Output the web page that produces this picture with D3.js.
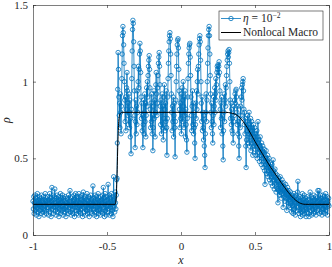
<!DOCTYPE html>
<html lang="en">
<head>
  <meta charset="utf-8">
  <title>Density profile, eta = 1e-2 vs nonlocal macro</title>
  <script src="https://d3js.org/d3.v7.min.js"></script>
  <style>
    body { margin: 0; background: #fff; }
    svg text { font-family: "Liberation Serif", "DejaVu Serif", serif; fill: #262626; }
  </style>
</head>
<body>
  <div id="chart"></div>
  <script>
    // microscopic density (eta = 1e-2), uniform grid on [-1, 1]
    var rho = [
      0.22,0.17,0.25,0.14,0.21,0.26,0.16,0.19,0.24,0.13,0.22,0.18,0.27,0.15,0.20,0.23,0.12,0.25,0.19,0.16,
      0.24,0.20,0.14,0.26,0.18,0.22,0.15,0.21,0.25,0.17,0.13,0.23,0.19,0.27,0.16,0.22,0.14,0.24,0.20,0.18,
      0.25,0.18,0.13,0.23,0.21,0.27,0.15,0.19,0.24,0.12,0.22,0.31,0.17,0.20,0.26,0.14,0.23,0.18,0.25,0.30,
      0.16,0.21,0.13,0.24,0.19,0.26,0.15,0.22,0.18,0.25,0.12,0.20,0.23,0.17,0.27,0.14,0.21,0.24,0.16,0.19,
      0.26,0.13,0.20,0.24,0.17,0.22,0.15,0.25,0.18,0.12,0.21,0.19,0.24,0.16,0.23,0.14,0.26,0.20,0.18,0.22,
      0.29,0.15,0.19,0.13,0.24,0.21,0.17,0.25,0.14,0.22,0.20,0.26,0.12,0.23,0.18,0.27,0.16,0.21,0.25,0.14,
      0.22,0.18,0.24,0.13,0.27,0.19,0.15,0.25,0.21,0.14,0.23,0.17,0.20,0.26,0.12,0.22,0.28,0.18,0.24,0.15,
      0.21,0.25,0.13,0.19,0.23,0.16,0.27,0.14,0.22,0.20,0.18,0.25,0.12,0.24,0.17,0.21,0.26,0.15,0.19,0.23,
      0.14,0.20,0.32,0.17,0.24,0.13,0.22,0.19,0.26,0.15,0.21,0.25,0.12,0.18,0.23,0.16,0.27,0.14,0.20,0.24,
      0.17,0.22,0.13,0.25,0.19,0.15,0.23,0.21,0.26,0.14,0.31,0.18,0.24,0.12,0.20,0.27,0.16,0.22,0.13,0.25,
      0.19,0.15,0.23,0.33,0.17,0.21,0.26,0.13,0.24,0.18,0.22,0.14,0.27,0.20,0.16,0.25,0.12,0.23,0.38,0.19,
      0.24,0.15,0.28,0.21,0.17,0.26,0.36,0.37,0.60,0.95,1.19,1.08,0.90,0.78,0.86,0.70,0.92,0.80,0.66,0.84,
      1.02,1.18,1.30,1.36,1.32,1.24,1.12,1.00,0.88,0.74,0.90,0.68,0.82,0.96,1.06,0.94,0.78,0.86,0.72,0.92,
      0.80,0.70,0.88,0.64,0.76,0.53,0.82,1.02,1.20,1.34,1.40,1.38,1.26,1.10,0.94,0.78,0.57,0.74,0.88,0.66,
      0.84,0.72,0.94,0.80,1.00,1.10,0.96,1.08,1.18,1.25,1.20,1.06,0.90,0.76,0.86,0.68,0.78,0.57,0.72,0.88,
      0.66,0.80,0.92,0.74,0.86,0.64,0.78,0.96,0.84,1.00,0.90,1.04,1.10,1.14,1.17,1.08,0.96,0.82,0.70,0.86,
      0.74,0.92,0.66,0.78,0.55,0.70,0.84,0.94,0.76,0.88,0.64,0.80,0.98,1.06,0.92,0.78,0.86,0.96,1.04,1.12,
      1.16,1.19,1.10,0.98,0.84,0.72,0.88,0.66,0.80,0.92,0.70,0.84,0.62,0.76,0.90,0.98,0.82,0.68,0.86,0.74,
      0.94,0.70,0.52,0.76,0.90,1.02,1.12,1.20,1.26,1.30,1.32,1.28,1.18,1.04,0.92,0.80,0.68,0.84,0.74,0.90,
      0.64,0.78,0.86,0.70,0.51,0.74,0.88,1.00,1.10,1.18,1.24,1.27,1.28,1.22,1.08,0.94,0.82,0.70,0.86,0.76,
      0.92,0.66,0.80,0.96,0.74,0.88,1.00,0.84,0.70,0.90,0.78,0.94,0.64,0.82,0.72,0.62,0.54,0.76,0.90,1.02,
      1.12,1.18,1.22,1.24,1.25,1.16,1.04,0.90,0.78,0.68,0.84,0.94,0.72,0.86,0.66,0.80,0.70,0.60,0.50,0.72,
      0.86,0.76,0.94,0.82,1.00,1.08,0.92,1.10,1.18,1.24,1.28,1.30,1.26,1.14,1.00,0.86,0.74,0.90,0.68,0.80,
      0.70,0.62,0.78,0.58,0.52,0.44,0.66,0.80,0.92,0.74,0.88,1.00,1.12,1.22,1.30,1.34,1.36,1.30,1.18,1.04,
      0.92,0.80,0.70,0.86,0.74,0.66,0.60,0.78,0.90,0.72,0.84,0.96,0.80,0.92,1.02,0.88,0.98,1.06,1.10,1.08,
      1.11,1.04,1.10,1.13,1.06,0.94,0.82,0.70,0.86,0.76,0.90,0.66,0.78,0.58,0.49,0.68,0.80,0.92,0.74,0.88,
      0.98,0.84,0.96,1.04,1.10,1.14,1.18,1.20,1.16,1.19,1.21,1.12,1.00,0.88,0.76,0.86,0.72,0.82,0.68,0.76,
      0.66,0.60,0.74,0.84,0.78,0.88,0.92,0.86,0.94,0.95,0.90,0.80,0.72,0.84,0.66,0.74,0.58,0.50,0.64,0.76,
      0.70,0.84,0.78,0.90,0.96,0.88,0.98,1.00,1.02,0.94,0.82,0.72,0.80,0.66,0.76,0.58,0.44,0.62,0.74,0.68,
      0.78,0.60,0.72,0.66,0.80,0.58,0.70,0.64,0.76,0.55,0.68,0.74,0.60,0.70,0.52,0.66,0.72,0.58,0.64,0.70,
      0.56,0.66,0.52,0.62,0.58,0.68,0.50,0.64,0.74,0.60,0.54,0.62,0.48,0.58,0.64,0.52,0.56,0.46,0.60,0.54,
      0.50,0.58,0.44,0.54,0.48,0.56,0.42,0.33,0.50,0.46,0.55,0.40,0.50,0.44,0.52,0.38,0.47,0.42,0.50,0.36,
      0.44,0.40,0.47,0.34,0.42,0.38,0.46,0.32,0.40,0.49,0.36,0.42,0.30,0.38,0.43,0.34,0.40,0.28,0.37,0.33,
      0.39,0.30,0.21,0.35,0.29,0.37,0.26,0.33,0.38,0.28,0.34,0.24,0.31,0.36,0.27,0.32,0.18,0.29,0.34,0.25,
      0.30,0.22,0.28,0.33,0.24,0.29,0.16,0.26,0.31,0.21,0.27,0.19,0.29,0.23,0.26,0.18,0.28,0.22,0.25,0.15,
      0.26,0.19,0.24,0.14,0.23,0.27,0.17,0.22,0.25,0.13,0.21,0.26,0.16,0.23,0.19,0.28,0.35,0.18,0.24,0.14,
      0.22,0.16,0.25,0.12,0.20,0.24,0.15,0.21,0.27,0.13,0.19,0.23,0.16,0.26,0.14,0.21,0.18,0.24,0.12,0.22,
      0.17,0.25,0.15,0.20,0.23,0.14,0.12,0.21,0.18,0.28,0.16,0.22,0.25,0.13,0.20,0.24,0.17,0.22,0.14,0.26,
      0.19,0.15,0.23,0.18,0.25,0.13,0.21,0.24,0.16,0.22,0.29,0.17,0.20,0.29,0.14,0.23,0.19,0.26,0.15,0.21,
      0.24,0.13,0.20,0.26,0.17,0.22,0.15,0.25,0.19,0.14,0.23,0.27,0.16,0.21,0.18,0.25,0.13,0.22,0.20,0.24,
      0.19
    ];

    // nonlocal macroscopic solution
    var macroX = [-1, -0.445, -0.438, -0.432, -0.426, -0.42, -0.412, -0.40, 0.30, 0.34, 0.38, 0.42,
      0.46, 0.50, 0.55, 0.60, 0.65, 0.70, 0.75, 0.80, 0.84, 0.87, 0.90, 1];
    var macroY = [0.2, 0.2, 0.24, 0.40, 0.62, 0.75, 0.79, 0.80, 0.80, 0.795, 0.78, 0.74,
      0.68, 0.61, 0.53, 0.45, 0.38, 0.31, 0.25, 0.21, 0.2, 0.2, 0.2, 0.2];

    var xTicks = [-1, -0.5, 0, 0.5, 1];
    var xTickLabels = ["-1", "-0.5", "0", "0.5", "1"];
    var yTicks = [0, 0.5, 1, 1.5];
    var yTickLabels = ["0", "0.5", "1", "1.5"];

    var blue = "#0072BD";
    var serif = "Liberation Serif, DejaVu Serif, serif";

    var margin = { top: 5, right: 3, bottom: 32, left: 33 },
      width = 332 - margin.left - margin.right,
      height = 267 - margin.top - margin.bottom;

    var svg = d3.select("#chart")
      .append("svg")
      .attr("width", 332)
      .attr("height", 267)
      .append("g")
      .attr("transform", "translate(" + margin.left + "," + margin.top + ")");

    var x = d3.scaleLinear().domain([-1, 1]).range([0, width]);
    var y = d3.scaleLinear().domain([0, 1.5]).range([height, 0]);
    // sample index -> position on the grid
    var grid = d3.scaleLinear().domain([0, rho.length - 1]).range([-1, 1]);

    // noisy series: line + open circles
    svg.append("path")
      .datum(rho)
      .attr("fill", "none")
      .attr("stroke", blue)
      .attr("stroke-width", 0.8)
      .attr("d", d3.line()
        .x(function (d, i) { return x(grid(i)); })
        .y(function (d) { return y(d); }));

    svg.append("g")
      .selectAll("circle")
      .data(rho)
      .enter()
      .append("circle")
      .attr("cx", function (d, i) { return x(grid(i)); })
      .attr("cy", function (d) { return y(d); })
      .attr("r", 2.2)
      .attr("fill", "none")
      .attr("stroke", blue)
      .attr("stroke-width", 0.8);

    // macro curve
    svg.append("path")
      .datum(macroX.map(function (d, i) { return [d, macroY[i]]; }))
      .attr("fill", "none")
      .attr("stroke", "#000")
      .attr("stroke-width", 1)
      .attr("d", d3.line()
        .curve(d3.curveMonotoneX)
        .x(function (d) { return x(d[0]); })
        .y(function (d) { return y(d[1]); }));

    // axes, ticks inside on all four sides
    function styleAxis(g) {
      g.attr("font-family", serif).attr("font-size", 11);
      g.selectAll("path").attr("stroke", "#262626").attr("stroke-width", 0.6);
      g.selectAll("line").attr("stroke", "#262626").attr("stroke-width", 0.6);
      g.selectAll("text").attr("fill", "#262626");
    }

    svg.append("g")
      .attr("transform", "translate(0," + height + ")")
      .call(d3.axisBottom(x).tickValues(xTicks).tickSizeInner(-3).tickSizeOuter(0).tickPadding(7)
        .tickFormat(function (d, i) { return xTickLabels[i]; }))
      .call(styleAxis);

    svg.append("g")
      .call(d3.axisTop(x).tickValues(xTicks).tickSizeInner(-3).tickSizeOuter(0).tickFormat(""))
      .call(styleAxis);

    svg.append("g")
      .call(d3.axisLeft(y).tickValues(yTicks).tickSizeInner(-3).tickSizeOuter(0).tickPadding(5)
        .tickFormat(function (d, i) { return yTickLabels[i]; }))
      .call(styleAxis);

    svg.append("g")
      .attr("transform", "translate(" + width + ",0)")
      .call(d3.axisRight(y).tickValues(yTicks).tickSizeInner(-3).tickSizeOuter(0).tickFormat(""))
      .call(styleAxis);

    // axis labels
    svg.append("text")
      .attr("x", width / 2)
      .attr("y", height + 29)
      .attr("text-anchor", "middle")
      .attr("font-size", 12)
      .attr("font-style", "italic")
      .text("x");

    svg.append("text")
      .attr("transform", "translate(-23," + (height / 2) + ") rotate(-90)")
      .attr("text-anchor", "middle")
      .attr("font-size", 12)
      .attr("font-style", "italic")
      .text("ρ");

    // legend
    var legend = svg.append("g")
      .attr("transform", "translate(" + (219 - margin.left) + "," + (11 - margin.top) + ")");

    legend.append("rect")
      .attr("width", 104)
      .attr("height", 29)
      .attr("fill", "#fff")
      .attr("stroke", "#262626")
      .attr("stroke-width", 0.6);

    legend.append("line")
      .attr("x1", 2).attr("x2", 22).attr("y1", 7.5).attr("y2", 7.5)
      .attr("stroke", blue).attr("stroke-width", 0.8);
    legend.append("circle")
      .attr("cx", 12).attr("cy", 7.5).attr("r", 2.2)
      .attr("fill", "none").attr("stroke", blue).attr("stroke-width", 0.8);

    var t1 = legend.append("text")
      .attr("x", 24)
      .attr("y", 11)
      .attr("font-size", 11.5);
    t1.append("tspan").attr("font-style", "italic").text("η");
    t1.append("tspan").text(" = 10");
    t1.append("tspan").attr("font-size", 7.5).attr("dy", -4.5).text("−2");

    legend.append("line")
      .attr("x1", 2).attr("x2", 22).attr("y1", 21.5).attr("y2", 21.5)
      .attr("stroke", "#000").attr("stroke-width", 1);

    legend.append("text")
      .attr("x", 24)
      .attr("y", 25)
      .attr("font-size", 11.5)
      .text("Nonlocal Macro");
  </script>
</body>
</html>
